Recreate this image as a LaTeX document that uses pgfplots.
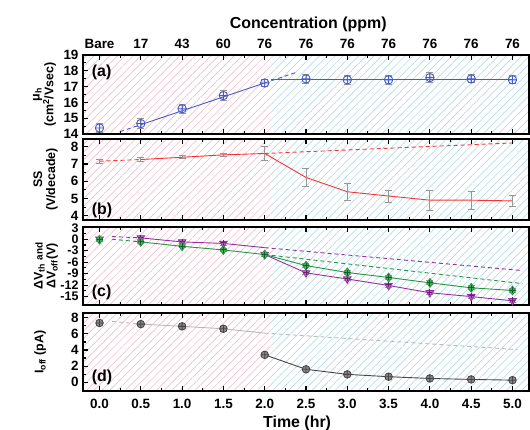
\documentclass[border=0pt]{standalone}
\usepackage{fontspec}
\setmainfont{Liberation Sans}
\usepackage{pgfplots}
\pgfplotsset{compat=1.18}
\usetikzlibrary{patterns.meta}
\definecolor{cblue}{RGB}{70,90,200}
\definecolor{cred}{RGB}{250,50,50}
\definecolor{cgreen}{RGB}{35,150,65}
\definecolor{cgreenfill}{RGB}{70,180,90}
\definecolor{cpurple}{RGB}{150,45,165}
\definecolor{cpurplefill}{RGB}{185,100,200}
\definecolor{cgray}{RGB}{70,70,70}
\definecolor{cgrayfill}{RGB}{135,135,135}
\definecolor{clight}{RGB}{185,185,185}
\definecolor{errgray}{RGB}{150,150,150}
\definecolor{hpink}{RGB}{236,180,195}
\definecolor{hblue}{RGB}{168,212,226}
\tikzset{
  plab/.style={anchor=west, font=\fontsize{16}{18}\selectfont\bfseries},
  dsh/.style={dash pattern=on 4bp off 3bp},
}
\pgfplotsset{
  panel/.style={
    width=446bp, scale only axis, xmin=-0.2, xmax=5.2,
    xtick={0,0.5,1,1.5,2,2.5,3,3.5,4,4.5,5}, minor x tick num=1,
    tick align=inside, xtick pos=both, ytick pos=left,
    major tick length=5bp, minor tick length=3bp,
    every tick/.append style={line width=1.1bp, black},
    axis line style={line width=1.5bp},
    tick label style={font=\fontsize{13.5}{15}\selectfont\bfseries},
    /pgf/number format/assume math mode=true,
    yticklabel style={xshift=-1bp},
    ylabel style={anchor=center, align=center, font=\fontsize{12.5}{13}\selectfont\bfseries},
    axis on top,
  },
  errb/.style={error bars/.cd, y dir=both, y explicit,
    error bar style={color=errgray, line width=0.9bp},
    error mark options={rotate=90, mark size=3.5bp, color=errgray, line width=0.9bp}},
  hatchL/.style={draw=none, forget plot, pattern={Lines[angle=45,distance=5.5bp,line width=0.5bp]}, pattern color=hpink},
  hatchR/.style={draw=none, forget plot, pattern={Lines[angle=45,distance=5.5bp,line width=0.5bp]}, pattern color=hblue},
}
\begin{document}
\begin{tikzpicture}
\useasboundingbox (-83bp,55bp) rectangle (447bp,-375bp);
% (a)
\begin{axis}[panel, at={(0,0)}, anchor=north west, height=79bp,
  ymin=14, ymax=19, ytick={14,15,16,17,18,19}, minor y tick num=1,
  xticklabel pos=upper, xticklabels={Bare,17,43,60,76,76,76,76,76,76,76},
  xticklabel style={yshift=3bp},
  xlabel={Concentration (ppm)},
  xlabel style={at={(axis description cs:0.505,1)}, anchor=base, yshift=27bp, font=\fontsize{16}{18}\selectfont\bfseries},
  ylabel={μ\textsubscript{h}\\(cm\textsuperscript{2}/Vsec)},
  ylabel style={at={(axis description cs:-0.0863,0.5)}}]
\addplot[hatchL] coordinates {(-0.2,14) (2.08,14) (2.08,19) (-0.2,19) (-0.2,14)};
\addplot[hatchR] coordinates {(2.08,14) (5.2,14) (5.2,19) (2.08,19) (2.08,14)};
\addplot[cblue, line width=0.9bp, dsh] coordinates {(0.25,14.15) (0.5,14.59)};
\addplot[cblue, line width=0.9bp] coordinates {(0.5,14.59) (2.0,17.23)};
\addplot[cblue, line width=0.9bp, dsh] coordinates {(2.0,17.23) (2.38,17.9)};
\addplot[cblue, line width=0.9bp] coordinates {(2.08,17.45) (5.0,17.45)};
\addplot[only marks, mark=oplus, mark size=4.2bp, mark options={cblue, line width=0.9bp}, errb]
  table[x=x, y=y, y error=e, row sep=\\] {
  x y e \\ 0 14.38 0.3 \\ 0.5 14.66 0.3 \\ 1.0 15.6 0.3 \\ 1.5 16.43 0.3 \\ 2.0 17.23 0.25 \\
  2.5 17.49 0.3 \\ 3.0 17.43 0.28 \\ 3.5 17.43 0.28 \\ 4.0 17.57 0.3 \\ 4.5 17.49 0.25 \\ 5.0 17.43 0.25 \\};
\node[plab] at (axis description cs:0.012,0.785) {(a)};
\end{axis}
% (b)
\begin{axis}[panel, at={(0,-84bp)}, anchor=north west, height=81bp,
  ymin=3.75, ymax=8.45, ytick={4,5,6,7,8}, minor y tick num=1,
  xticklabels={},
  ylabel={SS\\(V/decade)},
  ylabel style={at={(axis description cs:-0.084,0.5)}}]
\addplot[hatchL] coordinates {(-0.2,3.75) (2.08,3.75) (2.08,8.45) (-0.2,8.45) (-0.2,3.75)};
\addplot[hatchR] coordinates {(2.08,3.75) (5.2,3.75) (5.2,8.45) (2.08,8.45) (2.08,3.75)};
\addplot[cred, line width=0.9bp, dsh] coordinates {(0,7.16) (0.5,7.26)};
\addplot[cred, line width=0.9bp, dsh] coordinates {(2.0,7.61) (5.0,8.22)};
\addplot[cred, line width=0.9bp] coordinates {(0.5,7.26) (1.0,7.39) (1.5,7.53) (2.0,7.61) (2.5,6.22) (3.0,5.39) (3.5,5.14) (4.0,4.9) (4.5,4.9) (5.0,4.86)};
\addplot[only marks, mark=boxplus, mark size=3.6bp, mark options={cred, line width=0.9bp}, errb]
  table[x=x, y=y, y error=e, row sep=\\] {
  x y e \\ 0 7.16 0.1 \\ 0.5 7.26 0.1 \\ 1.0 7.39 0.08 \\ 1.5 7.53 0.1 \\ 2.0 7.61 0.42 \\
  2.5 6.22 0.52 \\ 3.0 5.39 0.5 \\ 3.5 5.14 0.35 \\ 4.0 4.9 0.57 \\ 4.5 4.9 0.52 \\ 5.0 4.86 0.3 \\};
\node[plab] at (axis description cs:0.012,0.12) {(b)};
\end{axis}
% (c)
\begin{axis}[panel, at={(0,-172bp)}, anchor=north west, height=78bp,
  ymin=-17.2, ymax=3.2, ytick={-15,-12,-9,-6,-3,0,3}, yticklabels={-15,-12,-9,-6,-3,0,3}, minor y tick num=1,
  yticklabel style={font=\fontsize{12.5}{13}\selectfont\bfseries},
  xticklabels={},
  ylabel={ΔV\textsubscript{th} {\fontsize{10}{11}\selectfont and}\\ΔV\textsubscript{off}(V)},
  ylabel style={at={(axis description cs:-0.083,0.5)}}]
\addplot[hatchL] coordinates {(-0.2,-17.2) (2.08,-17.2) (2.08,3.2) (-0.2,3.2) (-0.2,-17.2)};
\addplot[hatchR] coordinates {(2.08,-17.2) (5.2,-17.2) (5.2,3.2) (2.08,3.2) (2.08,-17.2)};
\addplot[cgreen, line width=0.9bp, dsh] coordinates {(0.15,0.0) (0.5,-0.7)};
\addplot[cgreen, line width=0.9bp, dsh] coordinates {(2.0,-4.0) (5.12,-11.6)};
\addplot[cpurple, line width=0.9bp, dsh] coordinates {(0.15,0.7) (0.5,0.35)};
\addplot[cpurple, line width=0.9bp, dsh] coordinates {(2.0,-2.2) (5.12,-8.2)};
\addplot[cpurple, line width=0.9bp] coordinates {(0.5,0.35) (1.0,-0.7) (1.5,-1.1) (2.0,-2.2)};
\addplot[cpurple, line width=0.9bp] coordinates {(2.0,-4.0) (2.5,-8.8) (3.0,-10.4) (3.5,-12.1) (4.0,-14.0) (4.5,-15.0) (5.0,-16.1)};
\addplot[cgreen, line width=0.9bp] coordinates {(0.5,-0.7) (1.0,-1.85) (1.5,-2.8) (2.0,-4.0) (2.5,-6.9) (3.0,-8.7) (3.5,-10.0) (4.0,-11.4) (4.5,-12.7) (5.0,-13.4)};
\addplot[only marks, mark=triangle*, mark size=4.4bp, mark options={rotate=180, draw=cpurple, fill=cpurplefill, line width=0.8bp}, errb]
  table[x=x, y=y, y error=e, row sep=\\] {
  x y e \\ 0 0.0 0.4 \\ 0.5 0.35 0.4 \\ 1.0 -0.7 0.4 \\ 1.5 -1.1 0.4 \\ 2.0 -4.0 0.4 \\
  2.5 -8.8 0.5 \\ 3.0 -10.4 0.5 \\ 3.5 -12.1 0.5 \\ 4.0 -14.0 0.5 \\ 4.5 -15.0 0.5 \\ 5.0 -16.1 0.5 \\};
\addplot[only marks, mark=+, mark size=2.6bp, mark options={cpurple!70!black, line width=0.9bp}]
  coordinates {(0,0.2) (0.5,0.55) (1.0,-0.5) (1.5,-0.9) (2.0,-3.8) (2.5,-8.6) (3.0,-10.2) (3.5,-11.9) (4.0,-13.8) (4.5,-14.8) (5.0,-15.9)};
\addplot[only marks, mark=diamond*, mark size=4.4bp, mark options={draw=cgreen, fill=cgreenfill, line width=0.8bp}, errb]
  table[x=x, y=y, y error=e, row sep=\\] {
  x y e \\ 0 -0.1 0.4 \\ 0.5 -0.7 0.4 \\ 1.0 -1.85 0.4 \\ 1.5 -2.8 0.4 \\ 2.0 -4.0 0.4 \\
  2.5 -6.9 0.5 \\ 3.0 -8.7 0.5 \\ 3.5 -10.0 0.5 \\ 4.0 -11.4 0.5 \\ 4.5 -12.7 0.5 \\ 5.0 -13.4 0.5 \\};
\addplot[only marks, mark=+, mark size=3bp, mark options={cgreen!60!black, line width=0.9bp}]
  coordinates {(0,-0.1) (0.5,-0.7) (1.0,-1.85) (1.5,-2.8) (2.0,-4.0) (2.5,-6.9) (3.0,-8.7) (3.5,-10.0) (4.0,-11.4) (4.5,-12.7) (5.0,-13.4)};
\node[plab] at (axis description cs:0.012,0.16) {(c)};
\end{axis}
% (d)
\begin{axis}[panel, at={(0,-258bp)}, anchor=north west, height=78bp,
  ymin=-1.1, ymax=8.6, ytick={0,2,4,6,8}, minor y tick num=1,
  xticklabels={0.0,0.5,1.0,1.5,2.0,2.5,3.0,3.5,4.0,4.5,5.0},
  xticklabel style={yshift=-5bp},
  xlabel={Time (hr)},
  xlabel style={at={(axis description cs:0.48,0)}, anchor=base, yshift=-36bp, font=\fontsize{16}{18}\selectfont\bfseries},
  ylabel={I\textsubscript{off} (pA)},
  ylabel style={at={(axis description cs:-0.096,0.5)}}]
\addplot[hatchL] coordinates {(-0.2,-1.1) (2.08,-1.1) (2.08,8.6) (-0.2,8.6) (-0.2,-1.1)};
\addplot[hatchR] coordinates {(2.08,-1.1) (5.2,-1.1) (5.2,8.6) (2.08,8.6) (2.08,-1.1)};
\addplot[clight, line width=0.9bp, dsh] coordinates {(0.15,7.56) (0.5,7.22)};
\addplot[clight, line width=0.9bp] coordinates {(0.5,7.22) (1.0,6.94) (1.5,6.64) (2.0,6.1)};
\addplot[clight, line width=0.9bp, dsh] coordinates {(2.0,6.1) (5.06,4.05)};
\addplot[cgray, line width=0.9bp] coordinates {(2.0,3.4) (2.5,1.6) (3.0,0.97) (3.5,0.68) (4.0,0.46) (4.5,0.34) (5.0,0.25)};
\addplot[only marks, mark=oplus*, mark size=3.8bp, mark options={draw=cgray, fill=cgrayfill, line width=0.8bp}, errb]
  table[x=x, y=y, y error=e, row sep=\\] {
  x y e \\ 0 7.36 0.2 \\ 0.5 7.22 0.2 \\ 1.0 6.94 0.2 \\ 1.5 6.64 0.2 \\ 2.0 3.4 0.2 \\
  2.5 1.6 0.2 \\ 3.0 0.97 0.15 \\ 3.5 0.68 0.15 \\ 4.0 0.46 0.15 \\ 4.5 0.34 0.15 \\ 5.0 0.25 0.15 \\};
\node[plab] at (axis description cs:0.012,0.18) {(d)};
\end{axis}
\end{tikzpicture}
\end{document}
